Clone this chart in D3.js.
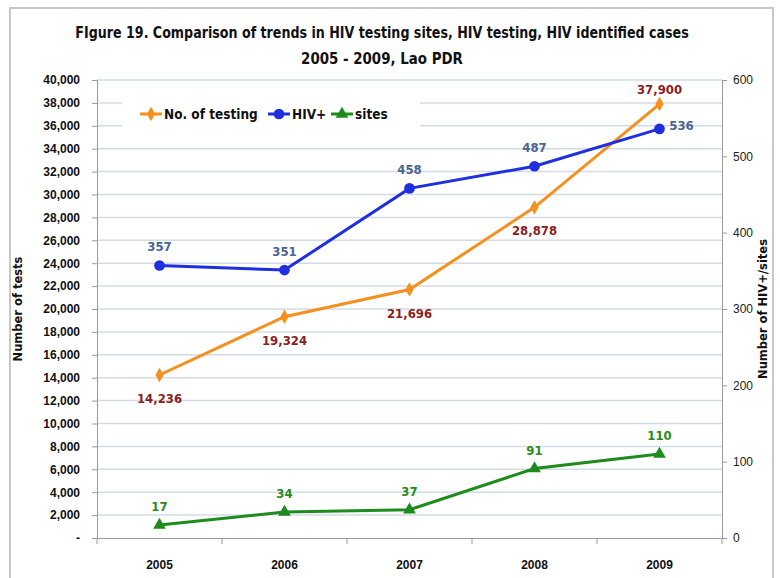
<!DOCTYPE html>
<html>
<head>
<meta charset="utf-8">
<script src="https://cdn.jsdelivr.net/npm/d3@7.9.0/dist/d3.min.js"></script>
<style>
  body { margin: 0; background: #fff; }
  svg { display: block; font-family: "DejaVu Sans Condensed", "Liberation Sans Narrow", "Liberation Sans", Arial, sans-serif; }
</style>
</head>
<body>
<svg width="780" height="578"></svg>
<script>
const years = ['2005', '2006', '2007', '2008', '2009'];
const testing = [14236, 19324, 21696, 28878, 37900];
const hivPos = [357, 351, 458, 487, 536];
const sites = [17, 34, 37, 91, 110];
const leftTicks = d3.range(0, 40001, 2000);
const rightTicks = [0, 100, 200, 300, 400, 500, 600];

const svg = d3.select('svg');

// outer frame
svg.append('path')
  .attr('d', 'M10,578 V8 H773 V578')
  .attr('fill', 'none').attr('stroke', '#c8c8c8').attr('stroke-width', 2);

const plotL = 97, plotR = 722, plotT = 80, plotB = 538;

const x = d3.scaleBand().domain(years).range([plotL, plotR]);
const yL = d3.scaleLinear().domain([0, 40000]).range([plotB, plotT]);
const yR = d3.scaleLinear().domain([0, 600]).range([plotB, plotT]);

// title, squeezed horizontally to the narrow look of the original
function titleLine(str, y, width) {
  const t = svg.append('text').attr('text-anchor', 'middle')
    .attr('font-size', 16.5).attr('font-weight', 'bold').attr('fill', '#111').text(str);
  const w = t.node().getComputedTextLength();
  t.attr('transform', `translate(382,${y}) scale(${Math.min(1, width / w)},1)`);
}
titleLine('FIgure 19. Comparison of trends in HIV testing sites, HIV testing, HIV identified cases', 38, 614);
titleLine('2005 - 2009, Lao PDR', 64, 162);

// grid
svg.append('g').selectAll('line').data(leftTicks.slice(1)).join('line')
  .attr('x1', plotL).attr('x2', plotR)
  .attr('y1', d => yL(d)).attr('y2', d => yL(d))
  .attr('stroke', '#d3dbe6').attr('stroke-width', 1.5);

// left axis
const fmt = d => d === 0 ? '-' : d3.format(',')(d);
const gL = svg.append('g').attr('transform', `translate(${plotL},0)`)
  .call(d3.axisLeft(yL).tickValues(leftTicks).tickFormat(fmt).tickSize(5).tickPadding(12));
gL.selectAll('text').attr('font-size', 12).attr('font-weight', 'bold').attr('fill', '#111');

// right axis
const gR = svg.append('g').attr('transform', `translate(${plotR},0)`)
  .call(d3.axisRight(yR).tickValues(rightTicks).tickSize(5).tickPadding(6));
gR.selectAll('text').attr('font-size', 12).attr('fill', '#222');

// bottom axis
const gB = svg.append('g').attr('transform', `translate(0,${plotB})`)
  .call(d3.axisBottom(x).tickSize(0).tickPadding(22));
gB.selectAll('text').attr('font-size', 12).attr('font-weight', 'bold').attr('fill', '#111');
gB.selectAll('.cat-tick').data(years.concat(['end'])).join('line')
  .attr('x1', (d, i) => plotL + i * x.step()).attr('x2', (d, i) => plotL + i * x.step())
  .attr('y1', 0).attr('y2', 6).attr('stroke', '#999');

[gL, gR, gB].forEach(g => {
  g.selectAll('.domain').attr('stroke', '#999');
  g.selectAll('.tick line').attr('stroke', '#999');
});

// axis titles
svg.append('text').attr('transform', `translate(22,${(plotT + plotB) / 2}) rotate(-90)`)
  .attr('text-anchor', 'middle').attr('font-weight', 'bold')
  .attr('font-family', 'DejaVu Sans, sans-serif').attr('fill', '#111').style('font-size', '11.5px')
  .text('Number of tests');
svg.append('text').attr('transform', `translate(767,${(plotT + plotB) / 2}) rotate(-90)`)
  .attr('text-anchor', 'middle').attr('font-weight', 'bold')
  .attr('font-family', 'DejaVu Sans, sans-serif').attr('fill', '#111').style('font-size', '11.5px')
  .text('Number of HIV+/sites');

const cx = d => x(d) + x.bandwidth() / 2;
const diamond = d3.symbol().type(d3.symbolDiamond).size(60);
const circle = d3.symbol().type(d3.symbolCircle).size(90);
const tri = d3.symbol().type(d3.symbolTriangle).size(70);

function series(vals, yS, color, sym) {
  const g = svg.append('g');
  g.append('path').datum(vals)
    .attr('d', d3.line().x((d, i) => cx(years[i])).y(d => yS(d)))
    .attr('fill', 'none').attr('stroke', color).attr('stroke-width', 3);
  g.selectAll('path.m').data(vals).join('path').attr('class', 'm')
    .attr('transform', (d, i) => `translate(${cx(years[i])},${yS(d)})`)
    .attr('d', sym).attr('fill', color);
  return g;
}

series(testing, yL, '#f5901e', diamond);
series(hivPos, yR, '#1f2fe0', circle);
series(sites, yR, '#1d8c1d', tri);

// data labels
const lblFont = 13;
svg.append('g').selectAll('text').data(testing).join('text')
  .attr('x', (d, i) => cx(years[i]))
  .attr('y', (d, i) => i === 4 ? yL(d) - 10 : yL(d) + 28)
  .attr('text-anchor', 'middle').attr('font-size', lblFont).attr('font-weight', 'bold')
  .attr('fill', '#8b1d1d').text(d => d3.format(',')(d));

svg.append('g').selectAll('text').data(hivPos).join('text')
  .attr('x', (d, i) => i === 4 ? cx(years[i]) + 22 : cx(years[i]))
  .attr('y', (d, i) => i === 4 ? yR(d) + 1 : yR(d) - 14)
  .attr('text-anchor', 'middle').attr('font-size', lblFont).attr('font-weight', 'bold')
  .attr('fill', '#4a6494').text(d => d);

svg.append('g').selectAll('text').data(sites).join('text')
  .attr('x', (d, i) => cx(years[i]))
  .attr('y', d => yR(d) - 14)
  .attr('text-anchor', 'middle').attr('font-size', lblFont).attr('font-weight', 'bold')
  .attr('fill', '#2a8a1a').text(d => d);

// legend
const leg = svg.append('g');
leg.append('rect').attr('x', 122).attr('y', 98).attr('width', 298).attr('height', 32).attr('fill', '#fff');
const legItems = [
  { name: 'No. of testing', color: '#f5901e', sym: diamond, x: 140 },
  { name: 'HIV+', color: '#1f2fe0', sym: circle, x: 268 },
  { name: 'sites', color: '#1d8c1d', sym: tri, x: 331 }
];
legItems.forEach(it => {
  leg.append('line').attr('x1', it.x).attr('x2', it.x + 22).attr('y1', 114).attr('y2', 114)
    .attr('stroke', it.color).attr('stroke-width', 3);
  leg.append('path').attr('transform', `translate(${it.x + 11},114)`).attr('d', it.sym).attr('fill', it.color);
  leg.append('text').attr('x', it.x + 24).attr('y', 119).attr('font-size', 13.5).attr('font-weight', 'bold')
    .attr('fill', '#111').text(it.name);
});
</script>
</body>
</html>
